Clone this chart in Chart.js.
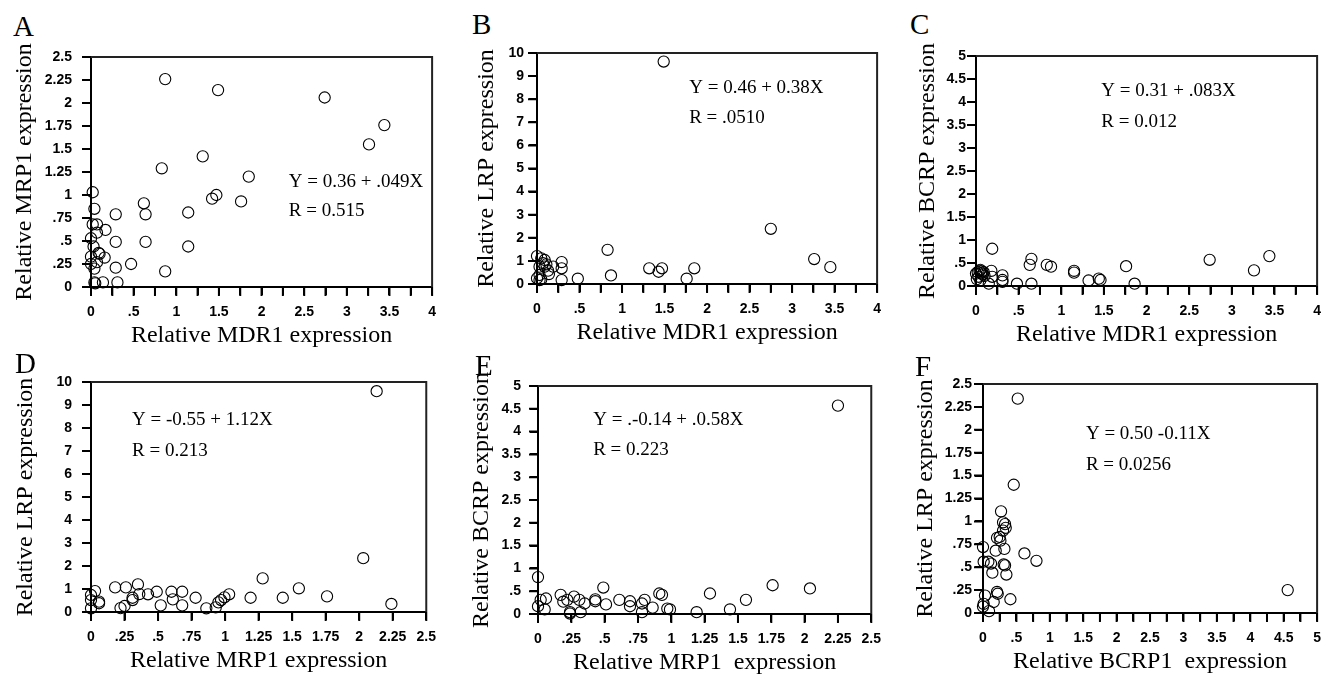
<!DOCTYPE html>
<html>
<head>
<meta charset="utf-8">
<script src="https://cdn.jsdelivr.net/npm/chart.js@4.4.0/dist/chart.umd.min.js"></script>
<style>
  html, body { margin: 0; padding: 0; background: #fff; overflow: hidden; }
  body { width: 1330px; height: 674px; position: relative; }
  canvas { position: absolute; }
  .letter { position: absolute; font-family: "Liberation Serif", "Times New Roman", serif; font-size: 29px; line-height: 1; color: #000; }
</style>
</head>
<body>
<script>
// A: MDR1 vs MRP1
var mdr1A = [0.87, 1.49, 2.74, 3.44, 3.26, 1.31, 0.83, 1.85, 1.47, 1.42, 1.76, 1.14, 0.62, 0.64, 0.29, 0.64, 0.29, 1.14, 0.47, 0.29, 0.87, 0.31, 0.14, 0.04, 0.02, 0.04, 0.02, 0.07, 0.07, 0.17, 0.00, 0.03, 0.09, 0.16, 0.00, 0.07, 0.04, 0.00, 0.10, 0.05];
var mrp1A = [2.26, 2.14, 2.06, 1.76, 1.55, 1.42, 1.29, 1.20, 1.00, 0.96, 0.93, 0.81, 0.91, 0.79, 0.79, 0.49, 0.49, 0.44, 0.25, 0.21, 0.17, 0.05, 0.05, 0.05, 1.03, 0.85, 0.68, 0.68, 0.59, 0.62, 0.53, 0.44, 0.37, 0.32, 0.33, 0.27, 0.20, 0.25, 0.36, 0.04];

// B: MDR1 vs LRP
var mdr1B = [1.49, 2.75, 3.26, 3.45, 0.83, 0.87, 1.32, 1.43, 1.47, 1.85, 1.76, 0.48, 0.29, 0.29, 0.29, 0.00, 0.05, 0.09, 0.03, 0.09, 0.13, 0.19, 0.14, 0.03, 0.00, 0.03, 0.07, 0.05, 0.11];
var lrpB  = [9.63, 2.39, 1.08, 0.73, 1.48, 0.37, 0.68, 0.53, 0.68, 0.68, 0.23, 0.23, 0.95, 0.68, 0.17, 1.21, 1.11, 1.04, 0.75, 0.75, 0.58, 0.75, 0.43, 0.39, 0.25, 0.17, 0.90, 0.20, 0.85];

// C: MDR1 vs BCRP
var mdr1C = [0.19, 0.65, 0.63, 0.65, 0.83, 0.88, 1.15, 1.15, 1.32, 1.44, 1.46, 1.76, 1.86, 2.74, 3.26, 3.44, 0.48, 0.31, 0.31, 0.31, 0.18, 0.19, 0.15, 0.02, 0.04, 0.06, 0.08, 0.03, 0.05, 0.00, 0.07, 0.10, 0.01, 0.05, 0.09];
var bcrpC = [0.81, 0.59, 0.46, 0.05, 0.46, 0.42, 0.33, 0.29, 0.12, 0.16, 0.13, 0.43, 0.05, 0.57, 0.34, 0.65, 0.05, 0.23, 0.09, 0.13, 0.33, 0.20, 0.05, 0.30, 0.33, 0.28, 0.25, 0.20, 0.35, 0.27, 0.32, 0.22, 0.15, 0.12, 0.30];

// D: MRP1 vs LRP
var mrp1D = [2.13, 2.03, 2.24, 1.28, 1.55, 1.76, 1.43, 1.19, 1.03, 0.995, 0.97, 0.95, 0.93, 0.86, 0.78, 0.68, 0.68, 0.60, 0.61, 0.52, 0.49, 0.425, 0.36, 0.35, 0.31, 0.31, 0.26, 0.18, 0.25, 0.22, 0.03, 0.00, 0.00, 0.06, 0.06, 0.00];
var lrpD  = [9.60, 2.34, 0.35, 1.46, 1.03, 0.68, 0.62, 0.62, 0.77, 0.64, 0.52, 0.42, 0.20, 0.16, 0.62, 0.88, 0.29, 0.88, 0.55, 0.29, 0.88, 0.77, 0.78, 1.20, 0.62, 0.52, 1.07, 1.07, 0.26, 0.17, 0.91, 0.74, 0.52, 0.45, 0.38, 0.16];

// E: MRP1 vs BCRP
var mrp1E = [2.25, 2.04, 1.76, 1.56, 1.44, 1.29, 1.19, 0.49, 0.00, 0.91, 0.93, 0.97, 0.99, 0.86, 0.80, 0.78, 0.78, 0.69, 0.69, 0.61, 0.51, 0.43, 0.43, 0.35, 0.31, 0.32, 0.27, 0.24, 0.24, 0.22, 0.19, 0.17, 0.06, 0.02, 0.05, 0.00];
var bcrpE = [4.57, 0.56, 0.63, 0.31, 0.10, 0.45, 0.04, 0.58, 0.81, 0.45, 0.42, 0.12, 0.10, 0.14, 0.31, 0.23, 0.04, 0.28, 0.17, 0.31, 0.21, 0.28, 0.32, 0.23, 0.31, 0.04, 0.38, 0.04, 0.01, 0.31, 0.27, 0.42, 0.34, 0.31, 0.10, 0.17];

// F: BCRP1 vs LRP
var bcrpF = [4.56, 0.52, 0.46, 0.27, 0.30, 0.33, 0.34, 0.30, 0.25, 0.21, 0.26, 0.19, 0.32, 0.62, 0.80, 0.00, 0.01, 0.08, 0.12, 0.31, 0.33, 0.14, 0.35, 0.03, 0.21, 0.16, 0.41, 0.01, 0.00, 0.09, 0.22];
var lrpF  = [0.25, 2.34, 1.40, 1.11, 0.99, 0.97, 0.93, 0.90, 0.83, 0.82, 0.79, 0.68, 0.70, 0.65, 0.57, 0.72, 0.56, 0.56, 0.54, 0.53, 0.52, 0.44, 0.42, 0.19, 0.23, 0.12, 0.15, 0.10, 0.07, 0.02, 0.21];

// regression notes
var eqA = ['Y = 0.36 + .049X', 'R = 0.515'];
var eqB = ['Y = 0.46 + 0.38X', 'R = .0510'];
var eqC = ['Y = 0.31 + .083X', 'R = 0.012'];
var eqD = ['Y = -0.55 + 1.12X', 'R = 0.213'];
var eqE = ['Y = .-0.14 + .0.58X', 'R = 0.223'];
var eqF = ['Y = 0.50 -0.11X', 'R = 0.0256'];

// tick helper: values from 0 to max by step
function steps(max, step) {
  var out = [];
  for (var i = 0; i * step <= max + 1e-9; i++) out.push(+(i * step).toFixed(4));
  return out;
}

// ".25" style labels, no leading zero
function fmt(v) {
  if (v === 0) return '0';
  var s = String(+v.toFixed(2));
  return s.indexOf('0.') === 0 ? s.slice(1) : s;
}

function labelEvery(every) {
  return function(v) {
    var r = v / every;
    return Math.abs(r - Math.round(r)) < 1e-6 ? fmt(v) : '';
  };
}

var serif = '"Liberation Serif", "Times New Roman", serif';
var sans = '"Liberation Sans", Arial, sans-serif';

// fit notes inside the plot
var notesPlugin = {
  id: 'notes',
  afterDatasetsDraw: function(chart, args, opts) {
    var ctx = chart.ctx;
    var xs = chart.scales.x, ys = chart.scales.y;
    var px = xs.getPixelForValue(opts.x);
    ctx.save();
    ctx.font = '19px ' + serif;
    ctx.fillStyle = '#000';
    ctx.textBaseline = 'middle';
    for (var i = 0; i < opts.lines.length; i++) {
      ctx.fillText(opts.lines[i], px, ys.getPixelForValue(opts.y[i]));
    }
    ctx.restore();
  }
};

// box edges on top/right and tick marks outside the left and bottom axes
var tickPlugin = {
  id: 'tickMarks',
  afterDraw: function(chart) {
    var a = chart.chartArea, ctx = chart.ctx;
    var xs = chart.scales.x, ys = chart.scales.y;
    ctx.save();
    ctx.strokeStyle = '#222';
    ctx.lineWidth = 2;
    ctx.beginPath();
    ctx.moveTo(a.left, a.top);
    ctx.lineTo(a.right, a.top);
    ctx.lineTo(a.right, a.bottom);
    ctx.stroke();

    ctx.strokeStyle = '#000';
    ctx.lineWidth = 2;
    ctx.beginPath();
    xs.ticks.forEach(function(t) {
      var px = xs.getPixelForValue(t.value);
      ctx.moveTo(px, a.bottom);
      ctx.lineTo(px, a.bottom + 9);
    });
    ys.ticks.forEach(function(t) {
      var py = ys.getPixelForValue(t.value);
      ctx.moveTo(a.left - 9, py);
      ctx.lineTo(a.left, py);
    });
    ctx.stroke();
    ctx.restore();
  }
};

function makePanel(p) {
  var letter = document.createElement('div');
  letter.className = 'letter';
  letter.textContent = p.letter;
  letter.style.left = p.letterAt[0] + 'px';
  letter.style.top = (p.letterAt[1] - 23) + 'px';
  document.body.appendChild(letter);

  var canvas = document.createElement('canvas');
  canvas.width = p.box[2];
  canvas.height = p.box[3];
  canvas.style.left = p.box[0] + 'px';
  canvas.style.top = p.box[1] + 'px';
  document.body.appendChild(canvas);

  var L = p.box[0], T = p.box[1], W = p.box[2], H = p.box[3];
  var a = p.area;
  var yWidth = a.l - L;
  var xHeight = T + H - a.b;
  var titleHalf = 24 * 1.2 / 2;

  var points = p.xs.map(function(x, i) { return { x: x, y: p.ys[i] }; });

  new Chart(canvas, {
    type: 'scatter',
    data: {
      datasets: [{
        data: points,
        pointStyle: 'circle',
        pointRadius: 5.6,
        borderWidth: 1.1,
        borderColor: '#000',
        backgroundColor: 'rgba(0,0,0,0)',
        clip: false
      }]
    },
    options: {
      responsive: false,
      animation: false,
      events: [],
      layout: { padding: { left: 0, top: a.t - T, right: L + W - a.r, bottom: 0 } },
      plugins: {
        legend: { display: false },
        tooltip: { enabled: false },
        notes: { x: p.noteX, y: p.noteY, lines: p.notes }
      },
      scales: {
        x: {
          type: 'linear',
          min: 0,
          max: p.xMax,
          afterBuildTicks: function(s) { s.ticks = p.xTicks.map(function(v) { return { value: v }; }); },
          afterFit: function(s) { s.height = xHeight; },
          ticks: {
            autoSkip: false, maxRotation: 0, minRotation: 0, padding: 9,
            color: '#000', font: { family: sans, size: 14, weight: 'bold' },
            callback: labelEvery(p.xLabelEvery)
          },
          grid: { drawOnChartArea: false, drawTicks: true, tickLength: 8, color: '#000', lineWidth: 2, tickWidth: 2, tickColor: '#000' },
          border: { display: true, color: '#000', width: 2 },
          title: {
            display: true, text: p.xTitle, color: '#000',
            font: { family: serif, size: 24 },
            padding: { top: 0, bottom: T + H - titleHalf - (a.b + 49) }
          }
        },
        y: {
          type: 'linear',
          min: 0,
          max: p.yMax,
          afterBuildTicks: function(s) { s.ticks = p.yTicks.map(function(v) { return { value: v }; }); },
          afterFit: function(s) { s.width = yWidth; },
          ticks: {
            autoSkip: false, padding: p.yPad,
            color: '#000', font: { family: sans, size: 14, weight: 'bold' },
            callback: labelEvery(p.yLabelEvery)
          },
          grid: { drawOnChartArea: false, drawTicks: true, tickLength: 8, color: '#000', lineWidth: 2, tickWidth: 2, tickColor: '#000' },
          border: { display: true, color: '#000', width: 2 },
          title: {
            display: true, text: p.yTitle, color: '#000',
            font: { family: serif, size: 24 },
            padding: { top: p.yTitleX - L - titleHalf, bottom: 0 }
          }
        }
      }
    },
    plugins: [notesPlugin, tickPlugin]
  });
}

var panels = [
  { letter: 'A', letterAt: [13, 35], box: [0, 0, 445, 360], area: { l: 91, t: 57, r: 434, b: 287 },
    xs: mdr1A, ys: mrp1A, xMax: 4, yMax: 2.5,
    xTicks: steps(4, 0.25), xLabelEvery: 0.5, yTicks: steps(2.5, 0.25), yLabelEvery: 0.25, yPad: 11,
    xTitle: 'Relative MDR1 expression', yTitle: 'Relative MRP1 expression', yTitleX: 25,
    notes: eqA, noteX: 2.32, noteY: [1.14, 0.83] },
  { letter: 'B', letterAt: [472, 33], box: [445, 0, 445, 360], area: { l: 537, t: 53, r: 881, b: 284 },
    xs: mdr1B, ys: lrpB, xMax: 4, yMax: 10,
    xTicks: steps(4, 0.25), xLabelEvery: 0.5, yTicks: steps(10, 1), yLabelEvery: 1, yPad: 5,
    xTitle: 'Relative MDR1 expression', yTitle: 'Relative LRP expression', yTitleX: 487,
    notes: eqB, noteX: 1.79, noteY: [8.48, 7.19] },
  { letter: 'C', letterAt: [910, 33], box: [885, 0, 445, 360], area: { l: 976, t: 56, r: 1321, b: 286 },
    xs: mdr1C, ys: bcrpC, xMax: 4, yMax: 5,
    xTicks: steps(4, 0.25), xLabelEvery: 0.5, yTicks: steps(5, 0.5), yLabelEvery: 0.5, yPad: 2,
    xTitle: 'Relative MDR1 expression', yTitle: 'Relative BCRP expression', yTitleX: 928,
    notes: eqC, noteX: 1.47, noteY: [4.24, 3.57] },
  { letter: 'D', letterAt: [15, 372], box: [0, 337, 445, 345], area: { l: 91, t: 382, r: 434, b: 612 },
    xs: mrp1D, ys: lrpD, xMax: 2.5, yMax: 10,
    xTicks: steps(2.5, 0.25), xLabelEvery: 0.25, yTicks: steps(10, 1), yLabelEvery: 1, yPad: 11,
    xTitle: 'Relative MRP1 expression', yTitle: 'Relative LRP expression', yTitleX: 26,
    notes: eqD, noteX: 0.306, noteY: [8.35, 7.0] },
  { letter: 'E', letterAt: [475, 374], box: [445, 337, 445, 345], area: { l: 538, t: 386, r: 882, b: 614 },
    xs: mrp1E, ys: bcrpE, xMax: 2.5, yMax: 5,
    xTicks: steps(2.5, 0.25), xLabelEvery: 0.25, yTicks: steps(5, 0.5), yLabelEvery: 0.5, yPad: 9,
    xTitle: 'Relative MRP1  expression', yTitle: 'Relative BCRP expression', yTitleX: 482,
    notes: eqE, noteX: 0.414, noteY: [4.25, 3.59] },
  { letter: 'F', letterAt: [915, 375], box: [885, 337, 445, 345], area: { l: 983, t: 384, r: 1327, b: 613 },
    xs: bcrpF, ys: lrpF, xMax: 5, yMax: 2.5,
    xTicks: steps(5, 0.25), xLabelEvery: 0.5, yTicks: steps(2.5, 0.25), yLabelEvery: 0.25, yPad: 3,
    xTitle: 'Relative BCRP1  expression', yTitle: 'Relative LRP expression', yTitleX: 926,
    notes: eqF, noteX: 1.54, noteY: [1.95, 1.62] }
];

panels.forEach(makePanel);
</script>
</body>
</html>
